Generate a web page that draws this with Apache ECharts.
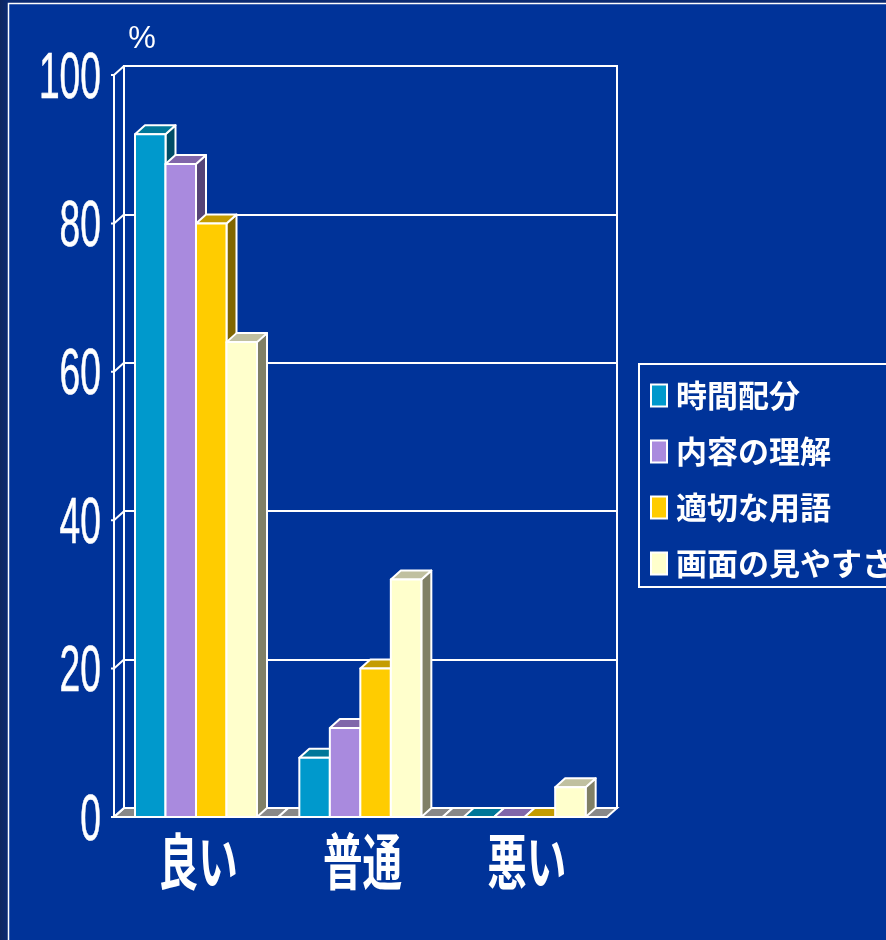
<!DOCTYPE html>
<html><head><meta charset="utf-8">
<script src="https://cdn.jsdelivr.net/npm/echarts@6/dist/echarts.min.js"></script>
<style>html,body{margin:0;padding:0;background:#003399;overflow:hidden}#c{width:886px;height:940px}</style>
</head><body><div id="c"></div>
<script>
// ---- data ----
const categories = ['良い', '普通', '悪い'];
const seriesNames = ['時間配分', '内容の理解', '適切な用語', '画面の見やすさ'];
const timeAlloc = [92, 8, 0];
const understanding = [88, 12, 0];
const properTerms = [80, 20, 0];
const screenVisibility = [64, 32, 4];
const yTicks = [0, 20, 40, 60, 80, 100];
const unitLabel = '%';

// ---- styles ----
const BG = '#003399';
const DX = 10, DY = -9;          // 3D depth offset
const BAR_OFF = 21, BAR_W = 30.5;
const palette = [
  ['#0099CC', '#007799', '#004C66'],
  ['#A98ADE', '#8066AA', '#554477'],
  ['#FFCC00', '#C49C00', '#806600'],
  ['#FFFFCC', '#C0C0A0', '#808066']
];
const allValues = [timeAlloc, understanding, properTerms, screenVisibility];

function barRender(sIdx) {
  const col = palette[sIdx];
  return function (params, api) {
    const cat = api.value(0), v = api.value(1);
    const base = api.coord([cat, 0]);
    const top = api.coord([cat, v]);
    const band = api.size([1, 0])[0];
    const x0 = base[0] - band / 2 + BAR_OFF + sIdx * BAR_W;
    const x1 = x0 + BAR_W;
    const yb = base[1], yt = top[1];
    const st = (f) => ({ fill: f, stroke: '#fff', lineWidth: 2, lineJoin: 'round' });
    const children = [];
    if (v > 0) {
      children.push({ type: 'polygon', shape: { points: [[x1, yb], [x1 + DX, yb + DY], [x1 + DX, yt + DY], [x1, yt]] }, style: st(col[2]) });
    }
    children.push({ type: 'polygon', shape: { points: [[x0, yt], [x0 + DX, yt + DY], [x1 + DX, yt + DY], [x1, yt]] }, style: st(col[1]) });
    if (v > 0) {
      children.push({ type: 'rect', shape: { x: x0, y: yt, width: BAR_W, height: yb - yt }, style: st(col[0]) });
    }
    return { type: 'group', children };
  };
}

function floorRender(params, api) {
  const cat = api.value(0);
  const p = api.coord([cat, 0]);
  const band = api.size([1, 0])[0];
  const xl = p[0] - band / 2, xr = p[0] + band / 2, y = p[1];
  return { type: 'polygon', shape: { points: [[xl, y], [xr, y], [xr + DX, y + DY], [xl + DX, y + DY]] },
    style: { fill: '#888888', stroke: '#fff', lineWidth: 2 } };
}

function tickRender(params, api) {
  const v = api.value(1);
  const p = api.coord([0, v]);
  const band = api.size([1, 0])[0];
  const xl = p[0] - band / 2, y = p[1];
  return { type: 'polyline', shape: { points: [[xl - 3, y], [xl, y], [xl + DX, y + DY]] },
    style: { stroke: '#fff', lineWidth: 2, fill: null } };
}

const series = [
  { type: 'custom', name: '_floor', xAxisIndex: 0, yAxisIndex: 0, z: 2, silent: true,
    renderItem: floorRender, data: categories.map((c, i) => [i, 0]) },
  { type: 'custom', name: '_ticks', xAxisIndex: 0, yAxisIndex: 0, z: 2, silent: true,
    renderItem: tickRender, data: yTicks.map(v => [0, v]) }
];
seriesNames.forEach((n, i) => {
  series.push({
    type: 'custom', name: n, xAxisIndex: 0, yAxisIndex: 0, z: 3,
    itemStyle: { color: palette[i][0] },
    renderItem: barRender(i),
    encode: { x: 0, y: 1 },
    data: allValues[i].map((v, ci) => [ci, v])
  });
});

const chart = echarts.init(document.getElementById('c'), null, { renderer: 'canvas' });
const option = {
  backgroundColor: BG,
  animation: false,
  grid: [
    { left: 114, right: 279, top: 75, bottom: 123, show: false },
    { left: 124, right: 269, top: 66, bottom: 132, show: true, borderColor: '#fff', borderWidth: 2, backgroundColor: 'transparent' }
  ],
  xAxis: [
    { type: 'category', gridIndex: 0, data: categories, show: false, boundaryGap: true },
    { type: 'category', gridIndex: 1, data: categories, show: false, boundaryGap: true }
  ],
  yAxis: [
    { type: 'value', gridIndex: 0, min: 0, max: 100, interval: 20,
      axisLine: { show: true, lineStyle: { color: '#fff', width: 2 } },
      axisTick: { show: false }, axisLabel: { show: false }, splitLine: { show: false } },
    { type: 'value', gridIndex: 1, min: 0, max: 100, interval: 20,
      axisLine: { show: false }, axisTick: { show: false }, axisLabel: { show: false },
      splitLine: { show: true, lineStyle: { color: '#fff', width: 2 } } }
  ],
  legend: {
    data: seriesNames, orient: 'vertical', left: 639, top: 364,
    padding: [16, 14, 8, 11], itemGap: 25, itemWidth: 16, itemHeight: 22, icon: 'rect',
    borderColor: '#fff', borderWidth: 2,
    itemStyle: { borderColor: '#fff', borderWidth: 2 },
    textStyle: { color: '#fff', fontSize: 31, fontWeight: 'bold', fontFamily: 'Noto Sans CJK JP', padding: [0, 0, 0, 4] },
    selectedMode: false
  },
  series: series
};
chart.setOption(option);

// text labels positioned through the axes
const graphics = [
  { type: 'rect', shape: { x: 0, y: 0, width: 886, height: 3 }, style: { fill: '#0a2a72' }, z: 0 },
  { type: 'rect', shape: { x: 0, y: 0, width: 8, height: 940 },
    style: { fill: new echarts.graphic.LinearGradient(0, 0, 1, 0, [{ offset: 0, color: '#0d2660' }, { offset: 1, color: '#0a2a72' }]) }, z: 0 },
  { type: 'polyline', shape: { points: [[8.5, 940], [8.5, 3.5], [886, 3.5]] }, style: { stroke: '#fff', lineWidth: 1.5, fill: null }, z: 1 },
  { type: 'text', x: 142, y: 39, style: { text: unitLabel, font: 'normal 31px "Liberation Sans", Arial, sans-serif', fill: '#fff', align: 'center', verticalAlign: 'middle' }, z: 5 }
];
yTicks.forEach(v => {
  const y = chart.convertToPixel({ yAxisIndex: 0 }, v);
  graphics.push({ type: 'text', x: 101, y: y + 5, scaleX: 0.6, scaleY: 1.03,
    style: { text: String(v), font: 'normal 62px "Liberation Sans", Arial, sans-serif', fill: '#fff', stroke: '#fff', lineWidth: 0.6, align: 'right', verticalAlign: 'middle' }, z: 5 });
});
categories.forEach((c, i) => {
  const x = chart.convertToPixel({ xAxisIndex: 0 }, i);
  graphics.push({ type: 'text', x: x + 2, y: 862, scaleX: 0.66, scaleY: 1.02,
    style: { text: c, font: 'bold 60px "Noto Sans CJK JP", sans-serif', fill: '#fff', align: 'center', verticalAlign: 'middle' }, z: 5 });
});
chart.setOption({ graphic: graphics });
</script>
</body></html>
